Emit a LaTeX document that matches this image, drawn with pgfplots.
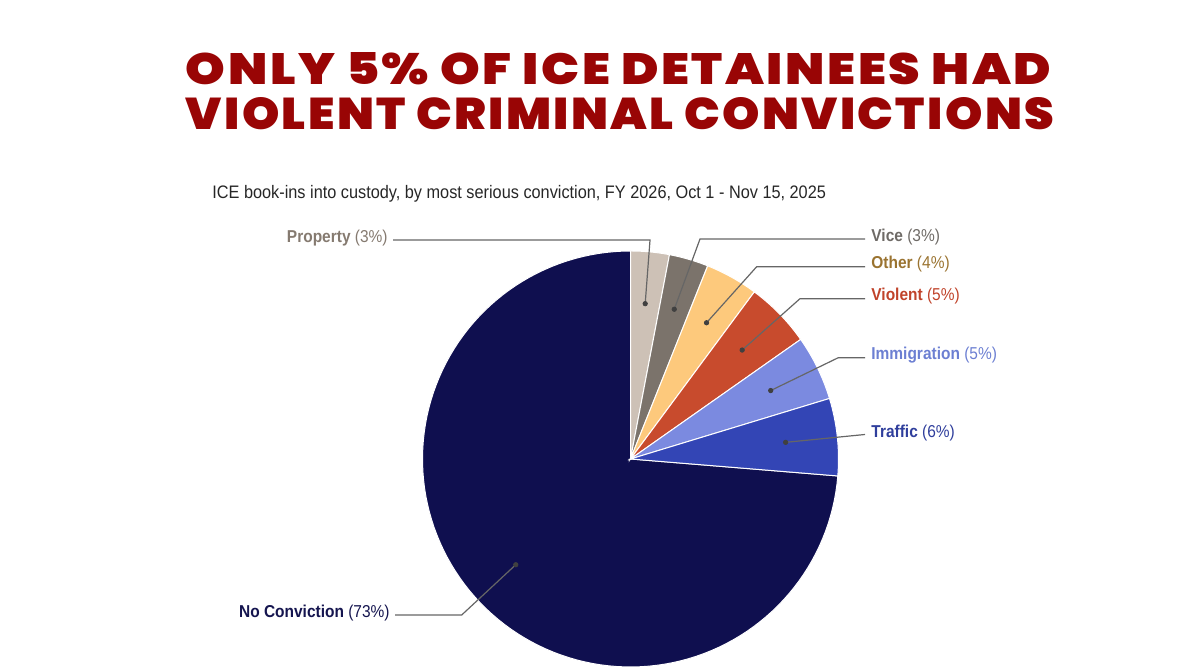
\documentclass[border=0pt]{standalone}
\usepackage{pgfplots}
\pgfplotsset{compat=1.18}
\usepackage{fontspec}
\setmainfont{Liberation Sans}[FakeStretch=0.9]
\newfontfamily\titlefont{Poppins Black}[LetterSpace=5]
\definecolor{titlered}{HTML}{990505}
\definecolor{cP}{HTML}{CDC1B6}
\definecolor{cV}{HTML}{7B736B}
\definecolor{cO}{HTML}{FDC97C}
\definecolor{cVi}{HTML}{C84B2D}
\definecolor{cI}{HTML}{7B8AE0}
\definecolor{cT}{HTML}{3345B5}
\definecolor{cN}{HTML}{0F0F4F}
\definecolor{tP}{HTML}{857A70}
\definecolor{tV}{HTML}{6E6A66}
\definecolor{tO}{HTML}{9A7330}
\definecolor{tVi}{HTML}{C0432A}
\definecolor{tI}{HTML}{6C7FD2}
\definecolor{tT}{HTML}{2F3E9C}
\definecolor{tN}{HTML}{15154F}
\definecolor{leader}{HTML}{666666}
% shares (percent), clockwise from 12 o'clock
\def\pP{3.0}
\def\pV{3.05}
\def\pO{4.1}
\def\pVi{5.1}
\def\pI{5.05}
\def\pT{6.0}
\def\pN{73.7}
\pgfmathsetmacro\aA{0}
\pgfmathsetmacro\aB{\aA+3.6*\pP}
\pgfmathsetmacro\aC{\aB+3.6*\pV}
\pgfmathsetmacro\aD{\aC+3.6*\pO}
\pgfmathsetmacro\aE{\aD+3.6*\pVi}
\pgfmathsetmacro\aF{\aE+3.6*\pI}
\pgfmathsetmacro\aG{\aF+3.6*\pT}
\pgfmathsetmacro\aH{\aG+3.6*\pN}
\begin{document}
\begin{tikzpicture}[x=1pt,y=1pt]
\path[use as bounding box] (0,0) rectangle (600,336);
% title
\node[anchor=base, inner sep=0, text=titlered] at (309.25,293.5) {\resizebox{432.5pt}{16pt}{\titlefont ONLY 5\% OF ICE DETAINEES HAD}};
\node[anchor=base, inner sep=0, text=titlered] at (310,271) {\resizebox{434pt}{16pt}{\titlefont VIOLENT CRIMINAL CONVICTIONS}};
% subtitle
\node[anchor=base west, inner sep=0, text=black!85, font=\fontsize{9.05}{11}\selectfont] at (106,236.5) {ICE book-ins into custody, by most serious conviction, FY 2026, Oct 1 - Nov 15, 2025};
\begin{axis}[at={(315.25pt,106.5pt)}, anchor=center, scale only axis,
  width=208pt, height=208pt, xmin=-1, xmax=1, ymin=-1, ymax=1,
  hide axis, clip=false]
\addplot[fill=cN, draw=white, line width=0.5pt, domain=\aG:\aH, samples=120] ({sin(x)},{cos(x)}) -- (axis cs:0,0) -- cycle;
\addplot[fill=cP, draw=white, line width=0.5pt, domain=\aA:\aB, samples=12] ({sin(x)},{cos(x)}) -- (axis cs:0,0) -- cycle;
\addplot[fill=cV, draw=white, line width=0.5pt, domain=\aB:\aC, samples=12] ({sin(x)},{cos(x)}) -- (axis cs:0,0) -- cycle;
\addplot[fill=cO, draw=white, line width=0.5pt, domain=\aC:\aD, samples=14] ({sin(x)},{cos(x)}) -- (axis cs:0,0) -- cycle;
\addplot[fill=cVi, draw=white, line width=0.5pt, domain=\aD:\aE, samples=16] ({sin(x)},{cos(x)}) -- (axis cs:0,0) -- cycle;
\addplot[fill=cI, draw=white, line width=0.5pt, domain=\aE:\aF, samples=16] ({sin(x)},{cos(x)}) -- (axis cs:0,0) -- cycle;
\addplot[fill=cT, draw=white, line width=0.5pt, domain=\aF:\aG, samples=18] ({sin(x)},{cos(x)}) -- (axis cs:0,0) -- cycle;
% leader lines
\addplot[leader, line width=0.6pt] coordinates {(0.0706,0.7467) (0.0938,1.0529) (-1.1418,1.0529)};
\addplot[leader, line width=0.6pt] coordinates {(0.2104,0.7199) (0.3341,1.0577) (1.1274,1.0577)};
\addplot[leader, line width=0.6pt] coordinates {(0.3655,0.6549) (0.6067,0.9245) (1.1274,0.9245)};
\addplot[leader, line width=0.6pt] coordinates {(0.5369,0.5237) (0.8149,0.7707) (1.1274,0.7707)};
\addplot[leader, line width=0.6pt] coordinates {(0.6740,0.3290) (0.9990,0.4870) (1.1274,0.4870)};
\addplot[leader, line width=0.6pt] coordinates {(0.7457,0.0800) (1.1274,0.1178)};
\addplot[leader, line width=0.6pt] coordinates {(-0.5516,-0.5083) (-0.8115,-0.7500) (-1.1320,-0.7500)};
\addplot[only marks, mark=*, mark size=1.1pt, color=black!75] coordinates {
(0.0706,0.7467) (0.2104,0.7199) (0.3655,0.6549) (0.5369,0.5237) (0.6740,0.3290) (0.7457,0.0800) (-0.5516,-0.5083)};
\end{axis}
% labels
\begin{scope}[every node/.style={inner sep=0, font=\fontsize{8.6}{10}\selectfont}]
\node[anchor=east, text=tP] at (194,217) {\textbf{Property} (3\%)};
\node[anchor=west, text=tV] at (435.5,217.5) {\textbf{Vice} (3\%)};
\node[anchor=west, text=tO] at (435.5,204) {\textbf{Other} (4\%)};
\node[anchor=west, text=tVi] at (435.5,188) {\textbf{Violent} (5\%)};
\node[anchor=west, text=tI] at (435.5,158.5) {\textbf{Immigration} (5\%)};
\node[anchor=west, text=tT] at (435.5,119.5) {\textbf{Traffic} (6\%)};
\node[anchor=east, text=tN] at (195,29.5) {\textbf{No Conviction} (73\%)};
\end{scope}
\end{tikzpicture}
\end{document}
